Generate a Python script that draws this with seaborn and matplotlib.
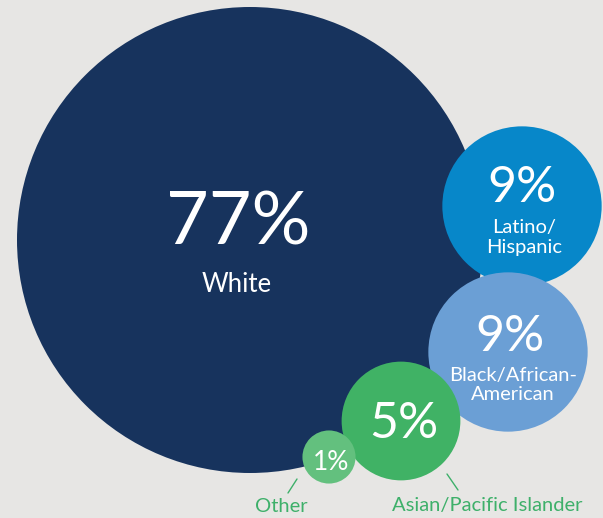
import matplotlib
matplotlib.use('Agg')
import matplotlib.pyplot as plt
import pandas as pd
import seaborn as sns

# values (share of population, %)
groups = ['White', 'Latino/Hispanic', 'Black/African-American', 'Asian/Pacific Islander', 'Other']
shares = [77, 9, 9, 5, 1]
pct_labels = ['77%', '9%', '9%', '5%', '1%']
colors = ['#17335d', '#0787c9', '#6b9fd5', '#40b265', '#63c07e']

# layout: bubble centres in pixel space (x, y from top-left)
cx = [250, 522, 508, 401, 329]
cy = [240, 206, 352, 421, 457]

df = pd.DataFrame({'group': groups, 'share': shares, 'x': cx, 'y': cy})

sns.set_style('white')
plt.rcParams['font.family'] = ['Lato', 'DejaVu Sans']

fig = plt.figure(figsize=(6.03, 5.18), dpi=100)
fig.patch.set_facecolor('#e7e6e4')
ax = fig.add_axes([0, 0, 1, 1])
ax.set_facecolor('#e7e6e4')

# marker area proportional to the share; 77% -> radius ~233 px
big_d = 2 * 233 * 72 / 100
sns.scatterplot(data=df, x='x', y='y', hue='group', palette=dict(zip(groups, colors)),
                size='share', sizes=(0, big_d ** 2), size_norm=(0, 77),
                linewidth=0, alpha=1, legend=False, ax=ax)

ax.set_xlim(0, 603)
ax.set_ylim(518, 0)
ax.axis('off')

txt = dict(color='white', ha='center', va='center')
# White
ax.text(238, 224, pct_labels[0], fontsize=53, **txt)
ax.text(237, 285, 'White', fontsize=18.5, **txt)
# Latino
ax.text(522, 188, pct_labels[1], fontsize=36, **txt)
ax.text(524, 227, 'Latino/', fontsize=14.5, **txt)
ax.text(524, 248, 'Hispanic', fontsize=14.5, **txt)
# Black
ax.text(510, 337, pct_labels[2], fontsize=36, **txt)
ax.text(513, 375, 'Black/African-', fontsize=14.5, **txt)
ax.text(513, 395, 'American', fontsize=14.5, **txt)
# Asian
ax.text(404, 424, pct_labels[3], fontsize=36, **txt)
# Other
ax.text(331, 462, pct_labels[4], fontsize=19, **txt)

# outside labels with leader lines
green = '#3eb06a'
ax.plot([297, 288], [479, 493], color=green, lw=1)
ax.plot([447, 458], [474, 490], color=green, lw=1)
ax.text(281, 506, 'Other', fontsize=14.5, color=green, ha='center', va='center')
ax.text(487, 506, 'Asian/Pacific Islander', fontsize=14.5, color=green, ha='center', va='center')

plt.savefig('out.png', dpi=100, facecolor=fig.get_facecolor())
